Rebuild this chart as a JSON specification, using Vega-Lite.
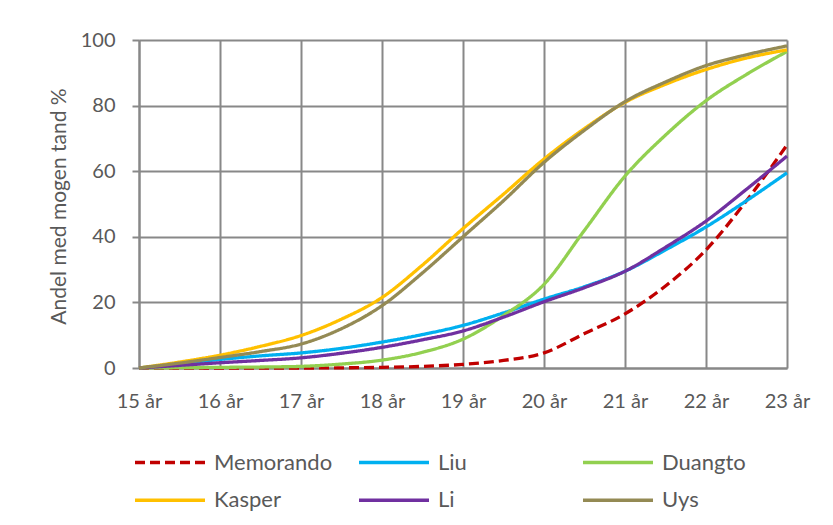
{
  "$schema": "https://vega.github.io/schema/vega-lite/v6.json",
  "width": 648,
  "height": 328,
  "autosize": {"type": "none"},
  "padding": {"left": 139, "top": 40, "right": 46, "bottom": 157},
  "background": "white",
  "config": {
    "font": "Lato",
    "view": {"stroke": null},
    "axis": {"labelColor": "#595959", "labelFontSize": 20, "labelFont": "Lato", "titleColor": "#595959", "titleFont": "Lato", "titleFontWeight": "normal", "gridColor": "#888888", "gridWidth": 2, "domainColor": "#888888", "domainWidth": 2, "tickColor": "#888888", "tickWidth": 2}
  },
  "data": {
    "values": [
      {"s": "Memorando", "x": 15, "y": 0}, {"s": "Memorando", "x": 15.5, "y": 0}, {"s": "Memorando", "x": 16, "y": 0}, {"s": "Memorando", "x": 16.5, "y": 0}, {"s": "Memorando", "x": 17, "y": 0}, {"s": "Memorando", "x": 17.5, "y": 0.05}, {"s": "Memorando", "x": 18, "y": 0.2}, {"s": "Memorando", "x": 18.5, "y": 0.5}, {"s": "Memorando", "x": 19, "y": 1.1}, {"s": "Memorando", "x": 19.5, "y": 2.3}, {"s": "Memorando", "x": 20, "y": 4.6}, {"s": "Memorando", "x": 20.5, "y": 10.5}, {"s": "Memorando", "x": 21, "y": 16.5}, {"s": "Memorando", "x": 21.5, "y": 25}, {"s": "Memorando", "x": 22, "y": 36}, {"s": "Memorando", "x": 22.5, "y": 51}, {"s": "Memorando", "x": 23, "y": 68},
      {"s": "Liu", "x": 15, "y": 0}, {"s": "Liu", "x": 15.5, "y": 1.3}, {"s": "Liu", "x": 16, "y": 2.6}, {"s": "Liu", "x": 16.5, "y": 3.7}, {"s": "Liu", "x": 17, "y": 4.6}, {"s": "Liu", "x": 17.5, "y": 6}, {"s": "Liu", "x": 18, "y": 7.9}, {"s": "Liu", "x": 18.5, "y": 10.2}, {"s": "Liu", "x": 19, "y": 13}, {"s": "Liu", "x": 19.5, "y": 16.8}, {"s": "Liu", "x": 20, "y": 21}, {"s": "Liu", "x": 20.5, "y": 24.8}, {"s": "Liu", "x": 21, "y": 29.5}, {"s": "Liu", "x": 21.5, "y": 36}, {"s": "Liu", "x": 22, "y": 43}, {"s": "Liu", "x": 22.5, "y": 51}, {"s": "Liu", "x": 23, "y": 59.5},
      {"s": "Duangto", "x": 15, "y": 0}, {"s": "Duangto", "x": 15.5, "y": 0.1}, {"s": "Duangto", "x": 16, "y": 0.2}, {"s": "Duangto", "x": 16.5, "y": 0.3}, {"s": "Duangto", "x": 17, "y": 0.5}, {"s": "Duangto", "x": 17.5, "y": 1.2}, {"s": "Duangto", "x": 18, "y": 2.4}, {"s": "Duangto", "x": 18.5, "y": 4.8}, {"s": "Duangto", "x": 19, "y": 8.8}, {"s": "Duangto", "x": 19.5, "y": 16}, {"s": "Duangto", "x": 20, "y": 25.5}, {"s": "Duangto", "x": 20.5, "y": 42}, {"s": "Duangto", "x": 21, "y": 58.5}, {"s": "Duangto", "x": 21.5, "y": 71}, {"s": "Duangto", "x": 22, "y": 81.5}, {"s": "Duangto", "x": 22.5, "y": 89.5}, {"s": "Duangto", "x": 23, "y": 96.5},
      {"s": "Kasper", "x": 15, "y": 0}, {"s": "Kasper", "x": 15.5, "y": 1.8}, {"s": "Kasper", "x": 16, "y": 3.9}, {"s": "Kasper", "x": 16.5, "y": 6.6}, {"s": "Kasper", "x": 17, "y": 9.9}, {"s": "Kasper", "x": 17.5, "y": 14.9}, {"s": "Kasper", "x": 18, "y": 21.5}, {"s": "Kasper", "x": 18.5, "y": 31.4}, {"s": "Kasper", "x": 19, "y": 42.5}, {"s": "Kasper", "x": 19.5, "y": 53}, {"s": "Kasper", "x": 20, "y": 63.7}, {"s": "Kasper", "x": 20.5, "y": 73}, {"s": "Kasper", "x": 21, "y": 81}, {"s": "Kasper", "x": 21.5, "y": 86.5}, {"s": "Kasper", "x": 22, "y": 91}, {"s": "Kasper", "x": 22.5, "y": 94.5}, {"s": "Kasper", "x": 23, "y": 97},
      {"s": "Li", "x": 15, "y": 0}, {"s": "Li", "x": 15.5, "y": 0.8}, {"s": "Li", "x": 16, "y": 1.6}, {"s": "Li", "x": 16.5, "y": 2.3}, {"s": "Li", "x": 17, "y": 3.1}, {"s": "Li", "x": 17.5, "y": 4.5}, {"s": "Li", "x": 18, "y": 6.3}, {"s": "Li", "x": 18.5, "y": 8.6}, {"s": "Li", "x": 19, "y": 11.3}, {"s": "Li", "x": 19.5, "y": 15.5}, {"s": "Li", "x": 20, "y": 20.2}, {"s": "Li", "x": 20.5, "y": 24.5}, {"s": "Li", "x": 21, "y": 29.5}, {"s": "Li", "x": 21.5, "y": 36.8}, {"s": "Li", "x": 22, "y": 44.8}, {"s": "Li", "x": 22.5, "y": 54.5}, {"s": "Li", "x": 23, "y": 64.6},
      {"s": "Uys", "x": 15, "y": 0}, {"s": "Uys", "x": 15.5, "y": 1.5}, {"s": "Uys", "x": 16, "y": 3.2}, {"s": "Uys", "x": 16.5, "y": 5}, {"s": "Uys", "x": 17, "y": 7.3}, {"s": "Uys", "x": 17.5, "y": 12}, {"s": "Uys", "x": 18, "y": 19}, {"s": "Uys", "x": 18.5, "y": 29}, {"s": "Uys", "x": 19, "y": 40}, {"s": "Uys", "x": 19.5, "y": 51}, {"s": "Uys", "x": 20, "y": 62.7}, {"s": "Uys", "x": 20.5, "y": 72.5}, {"s": "Uys", "x": 21, "y": 81.2}, {"s": "Uys", "x": 21.5, "y": 87.2}, {"s": "Uys", "x": 22, "y": 92.2}, {"s": "Uys", "x": 22.5, "y": 95.5}, {"s": "Uys", "x": 23, "y": 98.2}
    ]
  },
  "mark": {"type": "line", "interpolate": "monotone", "strokeWidth": 3.3},
  "encoding": {
    "x": {
      "field": "x", "type": "quantitative",
      "scale": {"domain": [15, 23], "nice": false},
      "axis": {"values": [15, 16, 17, 18, 19, 20, 21, 22, 23], "labelExpr": "datum.value + ' år'", "title": null, "ticks": false, "labelPadding": 23, "labelFlush": false}
    },
    "y": {
      "field": "y", "type": "quantitative",
      "scale": {"domain": [0, 100], "nice": false},
      "axis": {"values": [0, 20, 40, 60, 80, 100], "title": "Andel med mogen tand %", "titleFontSize": 21, "tickSize": 7, "labelPadding": 17, "titleX": -74, "titleY": 166, "titleBaseline": "alphabetic", "titleAngle": -90}
    },
    "color": {
      "field": "s", "type": "nominal",
      "scale": {"domain": ["Memorando", "Liu", "Duangto", "Kasper", "Li", "Uys"], "range": ["#C00000", "#00B0F0", "#92D050", "#FFC000", "#7030A0", "#948A54"]},
      "legend": {"title": null, "orient": "none", "legendX": 19, "legendY": 410.5, "direction": "horizontal", "columns": 3, "gridAlign": "all", "columnPadding": 19, "rowPadding": 14.7, "padding": 0, "symbolType": "M-3.5,0H3.5", "symbolSize": 400, "symbolStrokeWidth": 3.5, "labelOffset": 32, "labelFontSize": 22, "labelColor": "#595959", "labelFont": "Lato", "labelLimit": 300}
    },
    "strokeDash": {
      "field": "s", "type": "nominal",
      "scale": {"domain": ["Memorando", "Liu", "Duangto", "Kasper", "Li", "Uys"], "range": [[10, 5], [1, 0], [1, 0], [1, 0], [1, 0], [1, 0]]},
      "legend": {"title": null, "orient": "none", "legendX": 19, "legendY": 410.5, "direction": "horizontal", "columns": 3}
    }
  }
}
